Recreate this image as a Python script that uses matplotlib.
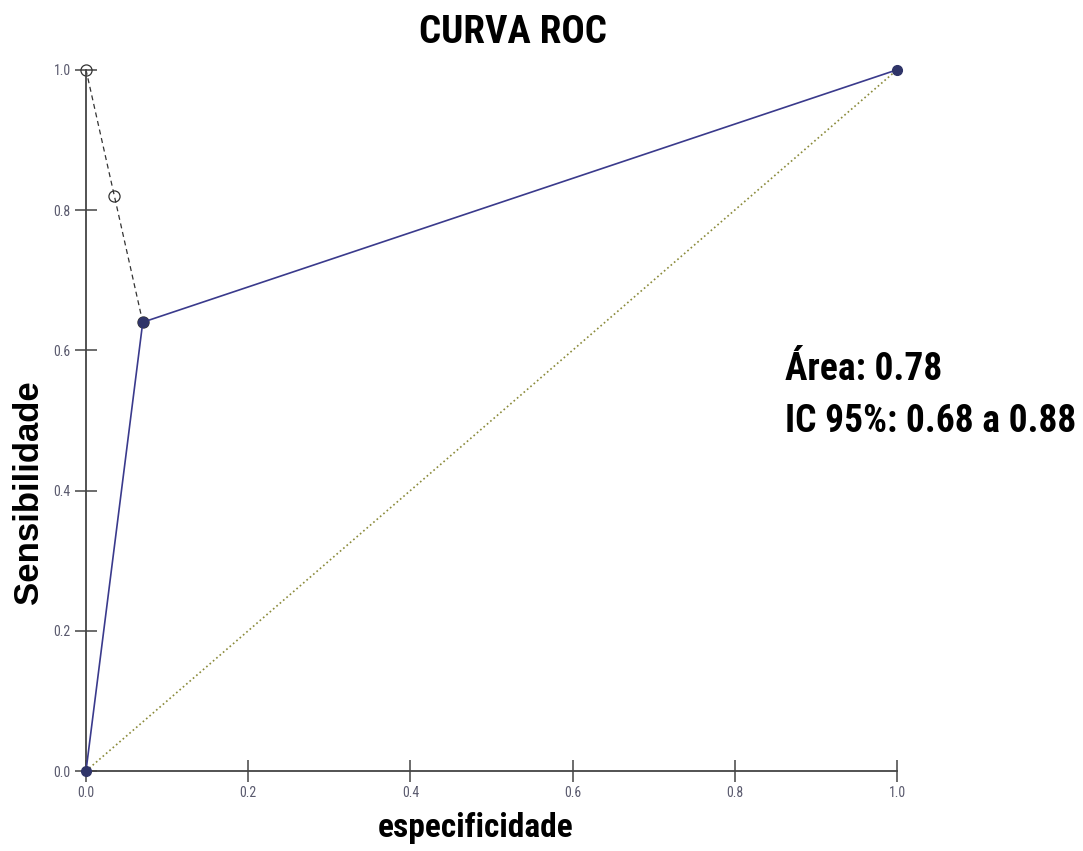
import matplotlib.pyplot as plt

# ROC points (1 - especificidade, sensibilidade)
roc_x = [0.0, 0.07, 1.0]
roc_y = [0.0, 0.64, 1.0]
# dashed segment with open circles
open_x = [0.0, 0.035, 0.07]
open_y = [1.0, 0.82, 0.64]
# reference diagonal
diag_x = [0.0, 1.0]
diag_y = [0.0, 1.0]
ticks = [0.0, 0.2, 0.4, 0.6, 0.8, 1.0]
tick_labels = ["0.0", "0.2", "0.4", "0.6", "0.8", "1.0"]

narrow = ["Roboto Condensed", "DejaVu Sans"]

fig = plt.figure(figsize=(10.83, 8.51), dpi=100)
ax = fig.add_axes([0.0794, 0.094, 0.7489, 0.824])

ax.plot(diag_x, diag_y, color="#8a8a3a", linestyle=":", linewidth=1.2, zorder=1)
ax.plot(open_x, open_y, color="#333333", linestyle=(0, (4, 3)), linewidth=0.9,
        marker="o", markersize=8, markerfacecolor="none", markeredgecolor="#333333",
        markeredgewidth=0.9, clip_on=False, zorder=2)
ax.plot(roc_x, roc_y, color="#3a3a8c", linewidth=1.2, marker="o", markersize=7,
        markerfacecolor="#2f3468", markeredgecolor="#2f3468", clip_on=False, zorder=3)

ax.set_xlim(0, 1)
ax.set_ylim(0, 1)
ax.spines["top"].set_visible(False)
ax.spines["right"].set_visible(False)
for s in ["left", "bottom"]:
    ax.spines[s].set_color("#444444")
    ax.spines[s].set_linewidth(1.3)
ax.set_xticks(ticks)
ax.set_xticklabels(tick_labels)
ax.set_yticks(ticks)
ax.set_yticklabels(tick_labels)
ax.tick_params(direction="inout", length=16, width=1.1, color="#444444",
               labelcolor="#5a5a6e", labelsize=10, pad=3)
for lab in ax.get_xticklabels() + ax.get_yticklabels():
    lab.set_family(narrow)

fig.text(0.474, 0.962, "CURVA ROC", ha="center", va="center", family=narrow,
         fontweight="bold", fontsize=28)
fig.text(0.439, 0.027, "especificidade", ha="center", va="center", family=narrow,
         fontweight="bold", fontsize=24)
fig.text(0.026, 0.422, "Sensibilidade", ha="center", va="center", rotation=90,
         family="Liberation Sans", fontweight="bold", fontsize=25)
fig.text(0.725, 0.5535, "Área: 0.78", ha="left", va="baseline",
         family=narrow, fontweight="bold", fontsize=27)
fig.text(0.725, 0.4924, "IC 95%: 0.68 a 0.88", ha="left", va="baseline",
         family=narrow, fontweight="bold", fontsize=27)

fig.savefig("out.png", dpi=100)
